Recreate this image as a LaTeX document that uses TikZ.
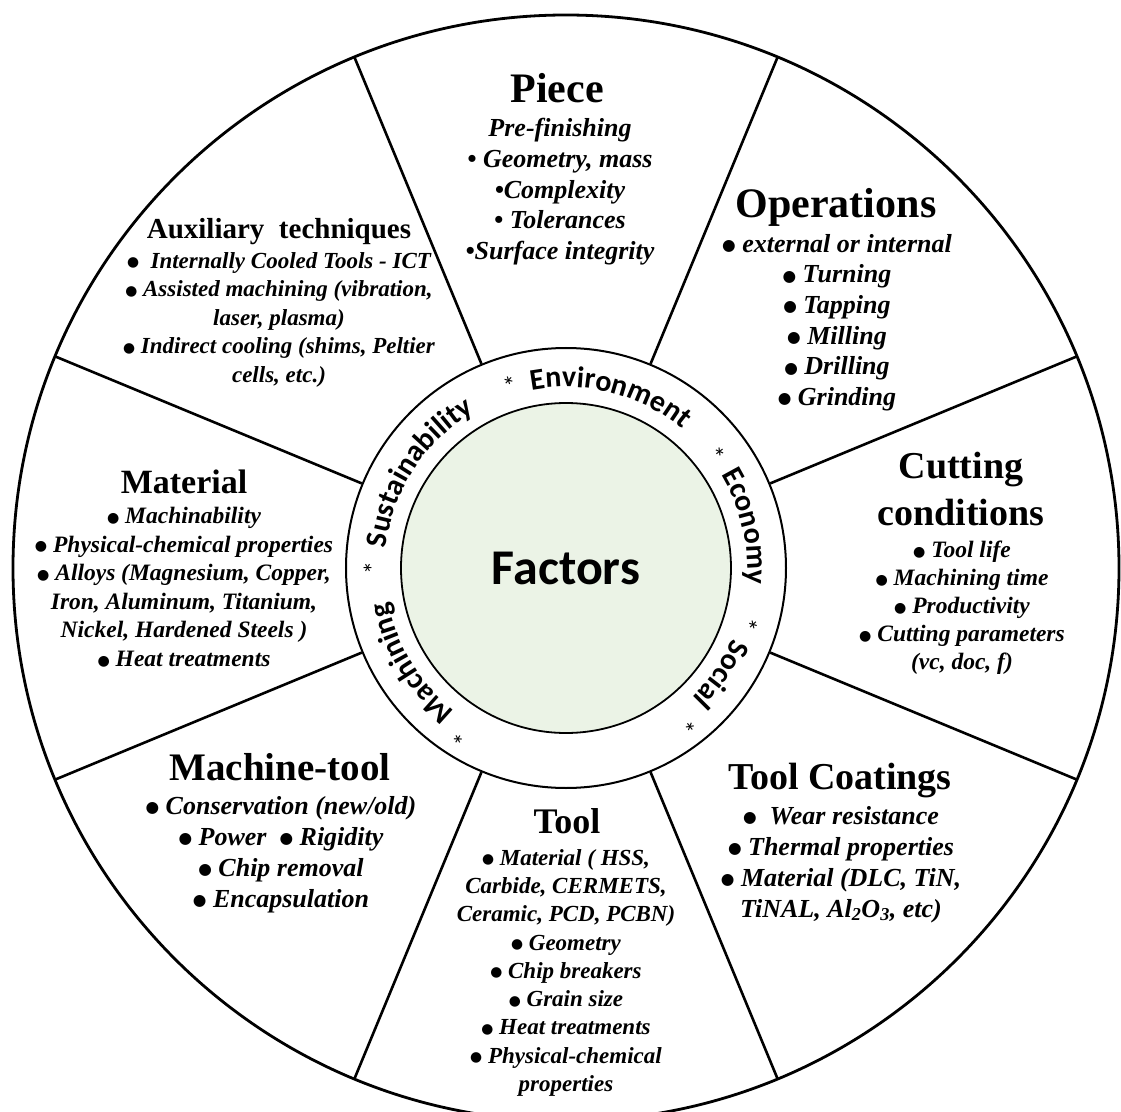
\documentclass[tikz,border=0pt]{standalone}
\usepackage{fontspec}
\usepackage{graphicx}
\setmainfont{Liberation Serif}
\newfontfamily\ringfont{Carlito}
\newfontfamily\symfont{DejaVu Sans}
\usetikzlibrary{decorations.text}

\definecolor{corefill}{RGB}{235,243,230}

% round bullet used in the item lists
\newcommand{\bul}{\raisebox{0.06em}{{\symfont\scalebox{0.6}{●}}}}

% word bent along the ring, #1 = angle of its middle
\newcommand{\ringword}[2]{%
  \path[decorate, decoration={text along path, text align=center,
      text={|\ringfont\bfseries\fontsize{30}{30}\selectfont|#2}}]
    (#1+40:181) arc[start angle=#1+40, end angle=#1-40, radius=181];}

\begin{document}
\begin{tikzpicture}[x=1pt, y=1pt,
    head/.style={font=\bfseries\fontsize{40}{46}\selectfont, inner sep=0pt, anchor=base},
    items/.style={font=\bfseries\itshape\fontsize{23}{28.6}\selectfont, align=center,
      inner sep=0pt, anchor=north},
    spoke/.style={line width=2.6pt},
    star/.style={font=\ringfont\fontsize{26}{26}\selectfont, inner sep=0pt}]

  \useasboundingbox (-566,-543) rectangle (555,568);

  % wheel and spokes
  \draw[line width=2.8pt] (0,0) circle[radius=553];
  \foreach \a in {22.5,67.5,...,337.5}
    \draw[spoke] (\a:221) -- (\a:553);
  \draw[line width=2pt] (0,0) circle[radius=220];
  \node[circle, draw, line width=1.8pt, fill=corefill, minimum size=330pt, inner sep=0pt,
    font=\ringfont\bfseries\fontsize{50}{50}\selectfont] (factors) at (0,0) {Factors};

  % ring words
  \ringword{75.5}{Environment}
  \ringword{13}{Economy}
  \ringword{-34.5}{Social}
  \ringword{-148.5}{Machining}
  \ringword{147}{Sustainability}
  \foreach \a/\r [count=\i] in {107/191, 37/187, -17/191, -52/196, -122/197, 180/193}
    \node[star, rotate=\a-90] (star\i) at (\a:\r) {*};

  \begin{scope}
    \node[head, font=\bfseries\fontsize{42}{46}\selectfont] (piece) at (-9,465) {Piece};
    \node[head, font=\bfseries\fontsize{42}{46}\selectfont] (oper) at (270,350) {Operations};
    \node[head, font=\bfseries\fontsize{38}{47}\selectfont, align=center, anchor=north]
      (cut) at (395,116) {Cutting\\conditions};
    \node[head, font=\bfseries\fontsize{38}{46}\selectfont] (coat) at (274,-221) {Tool Coatings};
    \node[head, font=\bfseries\fontsize{36}{46}\selectfont] (tool) at (1,-265) {Tool};
    \node[head, font=\bfseries\fontsize{39}{46}\selectfont] (mach) at (-286,-212) {Machine-tool};
    \node[head, font=\bfseries\fontsize{34}{46}\selectfont] (mat) at (-382,75) {Material};
    \node[head, font=\bfseries\fontsize{29}{46}\selectfont] (aux) at (-287,329) {Auxiliary\ \ techniques};
  \end{scope}

  \begin{scope}
    \node[items, font=\bfseries\itshape\fontsize{26}{30.8}\selectfont] (piece-items) at (-6,450)
      {Pre-finishing\\ \textbullet\ Geometry, mass\\ \textbullet Complexity\\
       \textbullet\ Tolerances\\ \textbullet Surface integrity};
    \node[items, font=\bfseries\itshape\fontsize{26}{30.6}\selectfont] (oper-items) at (271,334)
      {\bul\ external or internal\\ \bul\ Turning\\ \bul\ Tapping\\ \bul\ Milling\\
       \bul\ Drilling\\ \bul\ Grinding};
    \node[items, font=\bfseries\itshape\fontsize{23.5}{28}\selectfont] (cut-items) at (396,27)
      {\bul\ Tool life\\ \bul\ Machining time\\ \bul\ Productivity\\
       \bul\ Cutting parameters\\ (vc, doc, f)};
    \node[items, font=\bfseries\itshape\fontsize{26}{31}\selectfont] (coat-items) at (275,-238)
      {\bul\ \ Wear resistance\\ \bul\ Thermal properties\\ \bul\ Material (DLC, TiN,\\
       TiNAL, Al\textsubscript{2}O\textsubscript{3}, etc)};
    \node[items, font=\bfseries\itshape\fontsize{23}{28.3}\selectfont] (tool-items) at (0,-281)
      {\bul\ Material ( HSS,\\ Carbide, CERMETS,\\ Ceramic, PCD, PCBN)\\ \bul\ Geometry\\
       \bul\ Chip breakers\\ \bul\ Grain size\\ \bul\ Heat treatments\\
       \bul\ Physical-chemical\\ properties};
    \node[items, font=\bfseries\itshape\fontsize{26}{31}\selectfont] (mach-items) at (-285,-228)
      {\bul\ Conservation (new/old)\\ \bul\ Power\ \ \bul\ Rigidity\\ \bul\ Chip removal\\
       \bul\ Encapsulation};
    \node[items, font=\bfseries\itshape\fontsize{23.5}{28.6}\selectfont] (mat-items) at (-382,61)
      {\bul\ Machinability\\ \bul\ Physical-chemical properties\\ \bul\ Alloys (Magnesium, Copper,\\
       Iron, Aluminum, Titanium,\\ Nickel, Hardened Steels )\\ \bul\ Heat treatments};
    \node[items] (aux-items) at (-287,316)
      {\bul\ \ Internally Cooled Tools - ICT\\ \bul\ Assisted machining\ (vibration,\\
       laser, plasma)\\ \bul\ Indirect cooling (shims, Peltier\\ cells, etc.)};
  \end{scope}

\end{tikzpicture}
\end{document}
